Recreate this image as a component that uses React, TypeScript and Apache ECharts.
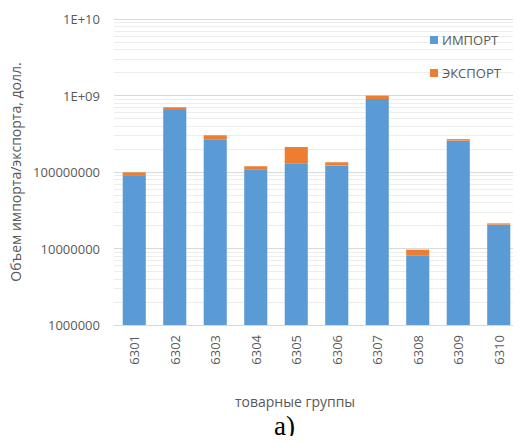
import React, { useEffect, useRef } from "react";
import * as echarts from "echarts";

const categories = ["6301", "6302", "6303", "6304", "6305", "6306", "6307", "6308", "6309", "6310"];
const importValues = [8.9e7, 6.45e8, 2.67e8, 1.09e8, 1.3e8, 1.22e8, 9.0e8, 8.15e6, 2.57e8, 2.05e7];
const exportValues = [1.0e7, 5.5e7, 3.5e7, 1.0e7, 8.2e7, 1.2e7, 9.5e7, 1.5e6, 1.2e7, 0.8e6];
const yMin = 1e6;
const yMax = 1e10;

// log-spaced minor grid values (2..9 within each decade)
const minorGrid: number[] = [];
for (let d = 1e6; d < yMax; d *= 10) {
  for (let k = 2; k <= 9; k++) minorGrid.push(k * d);
}

const FONT = "'Open Sans', sans-serif";
const TEXT = "#595959";

function formatTick(v: number): string {
  if (v >= 1e9) return "1E+" + String(Math.round(Math.log10(v))).padStart(2, "0");
  return String(Math.round(v));
}

export default function App() {
  const ref = useRef<HTMLDivElement>(null);
  useEffect(() => {
    if (!ref.current) return;
    const chart = echarts.init(ref.current, null, { renderer: "svg" });
    chart.setOption({
      animation: false,
      backgroundColor: "#ffffff",
      textStyle: { fontFamily: FONT },
      grid: { left: 114, right: 2, top: 19, bottom: 119 },
      legend: {
        orient: "vertical",
        left: 430,
        top: 32,
        padding: 0,
        itemWidth: 8,
        itemHeight: 8,
        itemGap: 17,
        icon: "rect",
        textStyle: { fontFamily: FONT, fontSize: 13, color: TEXT, lineHeight: 16, padding: [0, 0, 0, -1] },
        data: ["ИМПОРТ", "ЭКСПОРТ"],
      },
      title: {
        text: "а)",
        left: 274,
        top: 411,
        padding: 0,
        textStyle: { fontFamily: "'Liberation Serif', serif", fontSize: 27, lineHeight: 29, fontWeight: "normal", color: "#000" },
      },
      xAxis: {
        type: "category",
        data: categories,
        name: "товарные группы",
        nameLocation: "middle",
        nameGap: 69,
        nameTextStyle: { fontFamily: FONT, fontSize: 14, color: TEXT, padding: [0, 43, 0, 0] },
        axisLine: { lineStyle: { color: "#d9d9d9" } },
        axisTick: { show: false },
        axisLabel: { rotate: 90, fontFamily: FONT, fontSize: 13, color: TEXT, margin: 10 },
      },
      yAxis: {
        type: "log",
        logBase: 10,
        min: yMin,
        max: yMax,
        name: "Объем импорта/экспорта, долл.",
        nameLocation: "middle",
        nameGap: 89,
        nameTextStyle: { fontFamily: FONT, fontSize: 14, color: TEXT },
        axisLine: { show: false },
        axisTick: { show: false },
        axisLabel: { fontFamily: FONT, fontSize: 13, color: TEXT, margin: 14, formatter: formatTick },
        splitLine: { lineStyle: { color: "#d9d9d9", width: 1 } },
      },
      series: [
        {
          name: "ИМПОРТ",
          type: "bar",
          stack: "total",
          data: importValues,
          barWidth: "57%",
          itemStyle: { color: "#5B9BD5" },
          clip: true,
          markLine: {
            z: 1,
            silent: true,
            symbol: "none",
            label: { show: false },
            lineStyle: { color: "#ededed", width: 1, type: "solid" },
            emphasis: { disabled: true },
            data: minorGrid.map((v) => ({ yAxis: v })),
          },
        },
        {
          name: "ЭКСПОРТ",
          type: "bar",
          stack: "total",
          data: exportValues,
          barWidth: "57%",
          itemStyle: { color: "#ED7D31" },
          clip: true,
        },
      ],
    });
    return () => chart.dispose();
  }, []);
  return <div ref={ref} style={{ width: 521, height: 444, margin: -8 }} />;
}
